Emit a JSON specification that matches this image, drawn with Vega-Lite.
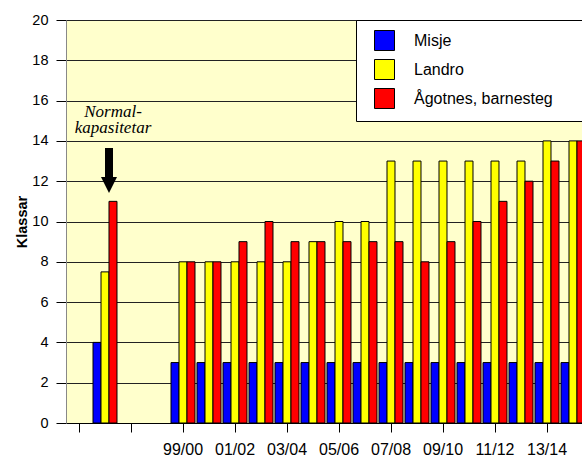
{
  "$schema": "https://vega.github.io/schema/vega-lite/v6.json",
  "width": 516,
  "height": 403,
  "autosize": {"type": "none"},
  "padding": {"left": 66, "top": 20, "right": 0, "bottom": 33},
  "background": "white",
  "config": {
    "view": {"fill": "#FFFFCC", "stroke": null},
    "font": "Liberation Sans"
  },
  "data": {
    "values": [
      {"cat": "Normal", "series": "Misje", "value": 4},
      {"cat": "Normal", "series": "Landro", "value": 7.5},
      {"cat": "Normal", "series": "Ågotnes, barnesteg", "value": 11},
      {"cat": "99/00", "series": "Misje", "value": 3},
      {"cat": "99/00", "series": "Landro", "value": 8},
      {"cat": "99/00", "series": "Ågotnes, barnesteg", "value": 8},
      {"cat": "00/01", "series": "Misje", "value": 3},
      {"cat": "00/01", "series": "Landro", "value": 8},
      {"cat": "00/01", "series": "Ågotnes, barnesteg", "value": 8},
      {"cat": "01/02", "series": "Misje", "value": 3},
      {"cat": "01/02", "series": "Landro", "value": 8},
      {"cat": "01/02", "series": "Ågotnes, barnesteg", "value": 9},
      {"cat": "02/03", "series": "Misje", "value": 3},
      {"cat": "02/03", "series": "Landro", "value": 8},
      {"cat": "02/03", "series": "Ågotnes, barnesteg", "value": 10},
      {"cat": "03/04", "series": "Misje", "value": 3},
      {"cat": "03/04", "series": "Landro", "value": 8},
      {"cat": "03/04", "series": "Ågotnes, barnesteg", "value": 9},
      {"cat": "04/05", "series": "Misje", "value": 3},
      {"cat": "04/05", "series": "Landro", "value": 9},
      {"cat": "04/05", "series": "Ågotnes, barnesteg", "value": 9},
      {"cat": "05/06", "series": "Misje", "value": 3},
      {"cat": "05/06", "series": "Landro", "value": 10},
      {"cat": "05/06", "series": "Ågotnes, barnesteg", "value": 9},
      {"cat": "06/07", "series": "Misje", "value": 3},
      {"cat": "06/07", "series": "Landro", "value": 10},
      {"cat": "06/07", "series": "Ågotnes, barnesteg", "value": 9},
      {"cat": "07/08", "series": "Misje", "value": 3},
      {"cat": "07/08", "series": "Landro", "value": 13},
      {"cat": "07/08", "series": "Ågotnes, barnesteg", "value": 9},
      {"cat": "08/09", "series": "Misje", "value": 3},
      {"cat": "08/09", "series": "Landro", "value": 13},
      {"cat": "08/09", "series": "Ågotnes, barnesteg", "value": 8},
      {"cat": "09/10", "series": "Misje", "value": 3},
      {"cat": "09/10", "series": "Landro", "value": 13},
      {"cat": "09/10", "series": "Ågotnes, barnesteg", "value": 9},
      {"cat": "10/11", "series": "Misje", "value": 3},
      {"cat": "10/11", "series": "Landro", "value": 13},
      {"cat": "10/11", "series": "Ågotnes, barnesteg", "value": 10},
      {"cat": "11/12", "series": "Misje", "value": 3},
      {"cat": "11/12", "series": "Landro", "value": 13},
      {"cat": "11/12", "series": "Ågotnes, barnesteg", "value": 11},
      {"cat": "12/13", "series": "Misje", "value": 3},
      {"cat": "12/13", "series": "Landro", "value": 13},
      {"cat": "12/13", "series": "Ågotnes, barnesteg", "value": 12},
      {"cat": "13/14", "series": "Misje", "value": 3},
      {"cat": "13/14", "series": "Landro", "value": 14},
      {"cat": "13/14", "series": "Ågotnes, barnesteg", "value": 13},
      {"cat": "14/15", "series": "Misje", "value": 3},
      {"cat": "14/15", "series": "Landro", "value": 14},
      {"cat": "14/15", "series": "Ågotnes, barnesteg", "value": 14}
    ]
  },
  "encoding": {
    "x": {
      "field": "cat",
      "type": "nominal",
      "sort": null,
      "scale": {
        "domain": ["a", "Normal", "b", "c", "99/00", "00/01", "01/02", "02/03", "03/04", "04/05", "05/06", "06/07", "07/08", "08/09", "09/10", "10/11", "11/12", "12/13", "13/14", "14/15"],
        "range": [0, 520],
        "paddingInner": 0.077,
        "paddingOuter": 0.0385
      },
      "axis": {
        "title": null,
        "values": ["a", "b", "99/00", "01/02", "03/04", "05/06", "07/08", "09/10", "11/12", "13/14"],
        "labelExpr": "datum.value == 'a' || datum.value == 'b' ? '' : datum.label",
        "labelAngle": 0,
        "labelOverlap": false,
        "labelBound": false,
        "labelFlush": false,
        "labelFontSize": 16,
        "labelColor": "black",
        "labelPadding": 9,
        "tickSize": 9,
        "tickColor": "black",
        "domainColor": "black",
        "grid": false
      }
    },
    "y": {
      "type": "quantitative",
      "scale": {"domain": [0, 20], "nice": false},
      "axis": {
        "title": "Klassar",
        "titleFontSize": 14.5,
        "titleFontWeight": "bold",
        "titleColor": "black",
        "titlePadding": 2,
        "values": [0, 2, 4, 6, 8, 10, 12, 14, 16, 18, 20],
        "labelFontSize": 14.5,
        "labelColor": "black",
        "labelPadding": 8,
        "tickSize": 10,
        "tickColor": "black",
        "domainColor": "#888888",
        "grid": true,
        "gridColor": "#222222",
        "gridOpacity": 1
      }
    }
  },
  "layer": [
    {
      "mark": {"type": "bar", "stroke": "black", "strokeWidth": 1, "opacity": 1},
      "encoding": {
        "y": {"field": "value", "type": "quantitative"},
        "xOffset": {
          "field": "series",
          "type": "nominal",
          "scale": {"domain": ["Misje", "Landro", "Ågotnes, barnesteg"], "paddingInner": 0, "paddingOuter": 0}
        },
        "color": {
          "field": "series",
          "type": "nominal",
          "scale": {"domain": ["Misje", "Landro", "Ågotnes, barnesteg"], "range": ["#0000FF", "#FFFF00", "#FF0000"]},
          "legend": {
            "orient": "none",
            "legendX": 290,
            "legendY": 0,
            "title": null,
            "direction": "vertical",
            "fillColor": "white",
            "strokeColor": "black",
            "padding": 10,
            "symbolType": "square",
            "symbolSize": 400,
            "symbolStrokeColor": "black",
            "symbolStrokeWidth": 1,
            "symbolOpacity": 1,
            "symbolOffset": 8,
            "labelOffset": 19,
            "labelFontSize": 16,
            "labelFont": "Liberation Sans",
            "labelColor": "black",
            "labelLimit": 400,
            "rowPadding": 4,
            "labelExpr": "datum.label + '\u2003\u2003\u2003\u2003\u2003\u200b'"
          }
        }
      }
    },
    {
      "data": {"values": [{}]},
      "mark": {
        "type": "point",
        "shape": "M0,-2.81L1,-2.81L1,0.81L1.5,0.81L0.5,2.81L-0.5,0.81L0,0.81Z",
        "size": 256,
        "filled": true,
        "color": "black",
        "opacity": 1,
        "strokeWidth": 0
      },
      "encoding": {
        "x": {"datum": "Normal"},
        "y": {"datum": 12.53}
      }
    },
    {
      "data": {"values": [{}]},
      "mark": {
        "type": "text",
        "font": "Liberation Serif",
        "fontStyle": "italic",
        "fontSize": 17,
        "lineHeight": 16,
        "align": "center",
        "baseline": "alphabetic",
        "dx": 8,
        "color": "black"
      },
      "encoding": {
        "x": {"datum": "Normal"},
        "y": {"datum": 15.19},
        "text": {"value": ["Normal-", "kapasitetar"]}
      }
    }
  ]
}
